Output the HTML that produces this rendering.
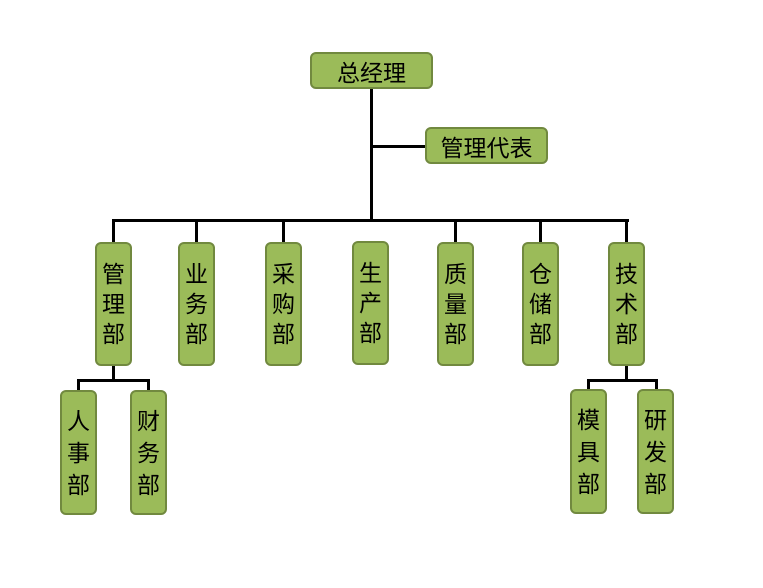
<!DOCTYPE html>
<html><head><meta charset="utf-8"><style>
body{margin:0;width:763px;height:588px;background:#fff;position:relative;overflow:hidden;font-family:"Liberation Sans","Noto Sans CJK SC",sans-serif;}
.b{position:absolute;background:#9bbb59;border:2px solid #71893f;border-radius:6px;box-sizing:border-box;display:flex;align-items:center;justify-content:center;color:#000;font-size:23px;}
.v{flex-direction:column;line-height:30px;width:37px;}
.w{line-height:32px;}
.l{position:absolute;background:#000;}
</style></head><body>
<div class="l" style="left:370px;top:88px;width:3px;height:134px"></div>
<div class="l" style="left:371px;top:145px;width:55px;height:3px"></div>
<div class="l" style="left:112px;top:219px;width:517px;height:3px"></div>
<div class="l" style="left:112px;top:219px;width:3px;height:24px"></div>
<div class="l" style="left:195px;top:219px;width:3px;height:24px"></div>
<div class="l" style="left:282px;top:219px;width:3px;height:24px"></div>
<div class="l" style="left:454px;top:219px;width:3px;height:24px"></div>
<div class="l" style="left:539px;top:219px;width:3px;height:24px"></div>
<div class="l" style="left:625px;top:219px;width:3px;height:24px"></div>
<div class="l" style="left:112px;top:364px;width:3px;height:17px"></div>
<div class="l" style="left:77px;top:379px;width:72px;height:3px"></div>
<div class="l" style="left:77px;top:379px;width:3px;height:12px"></div>
<div class="l" style="left:147px;top:379px;width:3px;height:12px"></div>
<div class="l" style="left:625px;top:364px;width:3px;height:17px"></div>
<div class="l" style="left:587px;top:379px;width:70px;height:3px"></div>
<div class="l" style="left:587px;top:379px;width:3px;height:12px"></div>
<div class="l" style="left:655px;top:379px;width:3px;height:12px"></div>

<div class="b" style="left:310px;top:52px;width:123px;height:37px">总经理</div>
<div class="b" style="left:425px;top:127px;width:123px;height:37px">管理代表</div>
<div class="b v" style="left:95px;top:242px;height:124px">管<br>理<br>部</div>
<div class="b v" style="left:178px;top:242px;height:124px">业<br>务<br>部</div>
<div class="b v" style="left:265px;top:242px;height:124px">采<br>购<br>部</div>
<div class="b v" style="left:352px;top:241px;height:124px">生<br>产<br>部</div>
<div class="b v" style="left:437px;top:242px;height:124px">质<br>量<br>部</div>
<div class="b v" style="left:522px;top:242px;height:124px">仓<br>储<br>部</div>
<div class="b v" style="left:608px;top:242px;height:124px">技<br>术<br>部</div>
<div class="b v w" style="left:60px;top:390px;height:125px">人<br>事<br>部</div>
<div class="b v w" style="left:130px;top:390px;height:125px">财<br>务<br>部</div>
<div class="b v w" style="left:570px;top:389px;height:125px">模<br>具<br>部</div>
<div class="b v w" style="left:637px;top:389px;height:125px">研<br>发<br>部</div>
</body></html>
